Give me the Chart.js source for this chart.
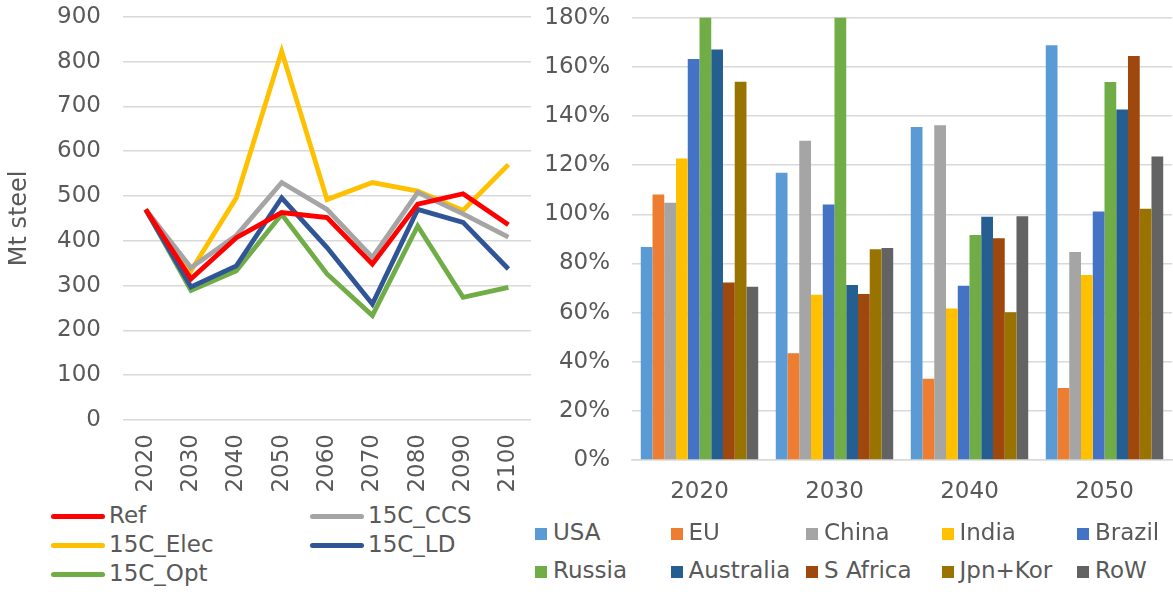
<!DOCTYPE html>
<html>
<head>
<meta charset="utf-8">
<script src="https://cdn.jsdelivr.net/npm/chart.js@4"></script>
<style>
  body { margin: 0; background: #fff; font-family: "DejaVu Sans", sans-serif; color: #595959; }
  #wrap { position: relative; width: 1173px; height: 592px; overflow: hidden; }
  .box { position: absolute; }
  .leg { position: absolute; font-size: 23px; line-height: 28px; white-space: nowrap; }
  .leg span.sw { display: inline-block; vertical-align: middle; }
</style>
</head>
<body>
<div id="wrap">
  <div class="box" style="left:0;top:-19px;width:542px;height:519px"><canvas id="lineChart"></canvas></div>
  <div class="box" style="left:520px;top:-18px;width:653px;height:533px"><canvas id="barChart"></canvas></div>
  <div id="lineLegend"></div>
  <div id="barLegend"></div>
</div>
<script>
// left chart: steel production by scenario
const years = ['2020', '2030', '2040', '2050', '2060', '2070', '2080', '2090', '2100'];
const ref = [470, 315, 407, 463, 452, 348, 482, 505, 436];
const c15Ccs = [470, 340, 412, 530, 470, 363, 508, 460, 408];
const c15Elec = [470, 333, 496, 823, 492, 530, 511, 468, 570];
const c15Ld = [470, 297, 344, 496, 385, 259, 470, 441, 337];
const c15Opt = [470, 289, 333, 459, 326, 233, 433, 274, 296];
const steelTicks = [0, 100, 200, 300, 400, 500, 600, 700, 800, 900];

// right chart: percentages by region
const decades = ['2020', '2030', '2040', '2050'];
const usa = [86.7, 116.9, 135.5, 168.8];
const eu = [108.1, 43.5, 33.1, 29.3];
const china = [104.7, 130.0, 136.3, 84.7];
const india = [122.7, 67.3, 61.7, 75.3];
const brazil = [163.2, 104.0, 70.9, 101.2];
const russia = [195.0, 195.0, 91.6, 153.9];
const australia = [167.1, 71.2, 99.0, 142.7];
const sAfrica = [72.3, 67.6, 90.3, 164.4];
const jpnKor = [154.0, 85.8, 60.1, 102.3];
const row = [70.5, 86.3, 99.2, 123.5];

const txt = '#595959';
const grid = '#d9d9d9';
const font = { family: 'DejaVu Sans', size: 23 };

const lineSets = [
    { label: 'Ref', data: ref, color: '#ff0000' },
    { label: '15C_CCS', data: c15Ccs, color: '#a5a5a5' },
    { label: '15C_Elec', data: c15Elec, color: '#ffc000' },
    { label: '15C_LD', data: c15Ld, color: '#2f5597' },
    { label: '15C_Opt', data: c15Opt, color: '#70ad47' },
];

const barSets = [
    { label: 'USA', data: usa, color: '#5b9bd5' },
    { label: 'EU', data: eu, color: '#ed7d31' },
    { label: 'China', data: china, color: '#a5a5a5' },
    { label: 'India', data: india, color: '#ffc000' },
    { label: 'Brazil', data: brazil, color: '#4472c4' },
    { label: 'Russia', data: russia, color: '#70ad47' },
    { label: 'Australia', data: australia, color: '#255e91' },
    { label: 'S Africa', data: sAfrica, color: '#9e480e' },
    { label: 'Jpn+Kor', data: jpnKor, color: '#997300' },
    { label: 'RoW', data: row, color: '#636363' },
];

Chart.defaults.font.family = 'DejaVu Sans';
Chart.defaults.color = txt;
Chart.defaults.animation = false;

new Chart(document.getElementById('lineChart'), {
    type: 'line',
    data: {
        labels: years,
        datasets: lineSets.map(s => ({
            label: s.label,
            data: s.data,
            borderColor: s.color,
            backgroundColor: s.color,
            borderWidth: 4.8,
            pointRadius: 0,
            tension: 0,
        })),
    },
    options: {
        responsive: true,
        maintainAspectRatio: false,
        layout: { padding: { top: 4, right: 0, bottom: 0, left: 0 } },
        plugins: { legend: { display: false }, tooltip: { enabled: false } },
        scales: {
            x: {
                offset: true,
                grid: { display: false },
                border: { display: false },
                ticks: { font: font, color: txt, minRotation: 90, maxRotation: 90, autoSkip: false, padding: 6 },
                afterFit: (s) => { s.height = 80; },
            },
            y: {
                min: 0,
                max: 900,
                afterBuildTicks: (s) => { s.ticks = steelTicks.map(v => ({ value: v })); },
                grid: { color: grid, lineWidth: 1.5, drawTicks: false },
                border: { display: false },
                ticks: { font: font, color: txt, padding: 22 },
                title: { display: true, text: 'Mt steel', font: { family: 'DejaVu Sans', size: 24 }, color: txt, padding: { top: 5, bottom: 0 } },
                afterFit: (s) => { s.width = 123; },
            },
        },
    },
});

new Chart(document.getElementById('barChart'), {
    type: 'bar',
    data: {
        labels: decades,
        datasets: barSets.map(s => ({
            label: s.label,
            data: s.data,
            backgroundColor: s.color,
            borderWidth: 0,
            categoryPercentage: 0.87,
            barPercentage: 1.0,
        })),
    },
    options: {
        responsive: true,
        maintainAspectRatio: false,
        layout: { padding: { top: 4, right: 1, bottom: 0, left: 0 } },
        plugins: { legend: { display: false }, tooltip: { enabled: false } },
        scales: {
            x: {
                grid: { display: false },
                border: { display: true, color: grid, width: 1.5 },
                ticks: { font: font, color: txt, padding: 10 },
                afterFit: (s) => { s.height = 55; },
            },
            y: {
                min: 0,
                max: 180,
                ticks: { stepSize: 20, font: font, color: txt, padding: 22, callback: v => v + '%' },
                grid: { color: grid, lineWidth: 1.5, drawTicks: false },
                border: { display: false },
                afterFit: (s) => { s.width = 112; },
            },
        },
    },
});

// legends as html, laid out in fixed columns
function makeLegend(id, sets, cols, x0, colW, y0, rowH, swatch) {
    const host = document.getElementById(id);
    sets.forEach((s, i) => {
        const d = document.createElement('div');
        d.className = 'leg';
        d.style.left = (x0 + (i % cols) * colW) + 'px';
        d.style.top = (y0 + Math.floor(i / cols) * rowH) + 'px';
        const sw = document.createElement('span');
        sw.className = 'sw';
        if (swatch === 'line') {
            sw.style.width = '54px';
            sw.style.height = '5px';
            sw.style.borderRadius = '3px';
            sw.style.marginRight = '4px';
        } else {
            sw.style.width = '12px';
            sw.style.height = '12px';
            sw.style.marginRight = '6px';
        }
        sw.style.background = s.color;
        d.appendChild(sw);
        d.appendChild(document.createTextNode(s.label));
        host.appendChild(d);
    });
}
makeLegend('lineLegend', lineSets, 2, 51, 259, 501, 29, 'line');
makeLegend('barLegend', barSets, 5, 535, 135.5, 518, 38, 'box');
</script>
</body>
</html>
